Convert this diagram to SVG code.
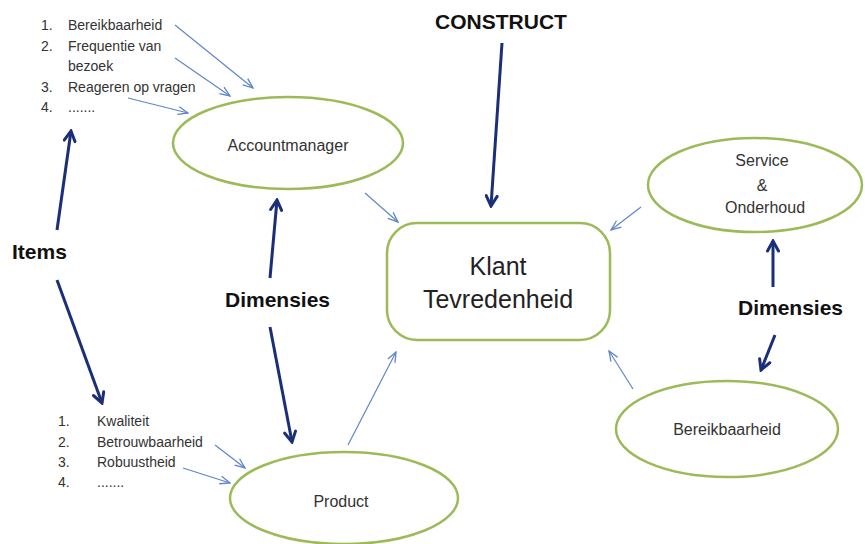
<svg xmlns="http://www.w3.org/2000/svg" width="865" height="544" viewBox="0 0 865 544">
<defs>
<style>
.node{fill:#ffffff;stroke:#9bbb59;stroke-width:2.5}
.nt{font-family:"Liberation Sans",Arial,sans-serif;font-size:16px;fill:#333333;text-anchor:middle}
.big{font-family:"Liberation Sans",Arial,sans-serif;font-size:25px;fill:#222222;text-anchor:middle}
.lbl{font-family:"Liberation Sans",Arial,sans-serif;font-size:21px;font-weight:bold;fill:#111111}
.li{font-family:"Liberation Sans",Arial,sans-serif;font-size:14px;fill:#333333}
.dark{stroke:#1b2f78;stroke-width:3;fill:none;marker-end:url(#mdark)}
.thin{stroke:#5f86c6;stroke-width:1.2;fill:none;marker-end:url(#mthin)}
</style>
<marker id="mdark" viewBox="0 0 14 14" markerWidth="14" markerHeight="14" refX="12" refY="7" orient="auto" markerUnits="userSpaceOnUse">
<path d="M2,1.5 L12,7 L2,12.5" fill="none" stroke="#1b2f78" stroke-width="3" stroke-linecap="round" stroke-linejoin="miter"/>
</marker>
<marker id="mthin" viewBox="0 0 12 12" markerWidth="12" markerHeight="12" refX="11" refY="6" orient="auto" markerUnits="userSpaceOnUse">
<path d="M1,2 L11,6 L1,10" fill="none" stroke="#5f86c6" stroke-width="1.3"/>
</marker>
</defs>
<rect width="865" height="544" fill="#ffffff"/>

<g id="connectors">
<line class="dark" x1="502" y1="43" x2="491" y2="206"/>
<line class="dark" x1="57" y1="230" x2="71" y2="131"/>
<line class="dark" x1="57" y1="280" x2="102" y2="403"/>
<line class="dark" x1="270" y1="278" x2="277" y2="200"/>
<line class="dark" x1="270" y1="327" x2="292" y2="442"/>
<line class="dark" x1="773" y1="287" x2="773" y2="241"/>
<line class="dark" x1="775" y1="335" x2="761" y2="370"/>
<line class="thin" x1="175" y1="25" x2="253" y2="88"/>
<line class="thin" x1="175" y1="58" x2="230" y2="96"/>
<line class="thin" x1="128" y1="98" x2="188" y2="113"/>
<line class="thin" x1="365" y1="193" x2="398" y2="222"/>
<line class="thin" x1="641" y1="207" x2="611" y2="230"/>
<line class="thin" x1="348" y1="445" x2="396" y2="352"/>
<line class="thin" x1="633" y1="389" x2="609" y2="351"/>
<line class="thin" x1="215" y1="445" x2="245" y2="468"/>
<line class="thin" x1="183" y1="468" x2="230" y2="483"/>
</g>

<g id="klant">
<rect class="node" x="387" y="223" width="223" height="117" rx="30" ry="30"/>
<text class="big" x="498" y="275">Klant</text>
<text class="big" x="498" y="308">Tevredenheid</text>
</g>

<g id="accountmanager">
<ellipse class="node" cx="288" cy="143" rx="115" ry="46"/>
<text class="nt" x="288" y="151">Accountmanager</text>
</g>

<g id="service">
<ellipse class="node" cx="755" cy="185" rx="107" ry="47"/>
<text class="nt" x="762" y="166">Service</text>
<text class="nt" x="762" y="191">&amp;</text>
<text class="nt" x="765" y="213">Onderhoud</text>
</g>

<g id="bereikbaarheid">
<ellipse class="node" cx="727" cy="429" rx="111" ry="48"/>
<text class="nt" x="727" y="435">Bereikbaarheid</text>
</g>

<g id="product">
<ellipse class="node" cx="344" cy="498" rx="114" ry="46"/>
<text class="nt" x="341" y="507">Product</text>
</g>

<g id="construct">
<text class="lbl" x="501" y="29" text-anchor="middle" font-size="20">CONSTRUCT</text>
</g>

<g id="items">
<text class="lbl" x="12" y="259">Items</text>
</g>

<g id="dimensies-left">
<text class="lbl" x="225" y="307">Dimensies</text>
</g>

<g id="dimensies-right">
<text class="lbl" x="738" y="315">Dimensies</text>
</g>

<g id="list-accountmanager">
<text class="li" x="41" y="30">1.</text><text class="li" x="68" y="30">Bereikbaarheid</text>
<text class="li" x="41" y="51">2.</text><text class="li" x="68" y="51">Frequentie van</text>
<text class="li" x="68" y="71">bezoek</text>
<text class="li" x="41" y="92">3.</text><text class="li" x="68" y="92">Reageren op vragen</text>
<text class="li" x="41" y="112">4.</text><text class="li" x="68" y="112">.......</text>
</g>

<g id="list-product">
<text class="li" x="58" y="426">1.</text><text class="li" x="97" y="426">Kwaliteit</text>
<text class="li" x="58" y="447">2.</text><text class="li" x="97" y="447">Betrouwbaarheid</text>
<text class="li" x="58" y="467">3.</text><text class="li" x="97" y="467">Robuustheid</text>
<text class="li" x="58" y="487">4.</text><text class="li" x="97" y="487">.......</text>
</g>
</svg>
